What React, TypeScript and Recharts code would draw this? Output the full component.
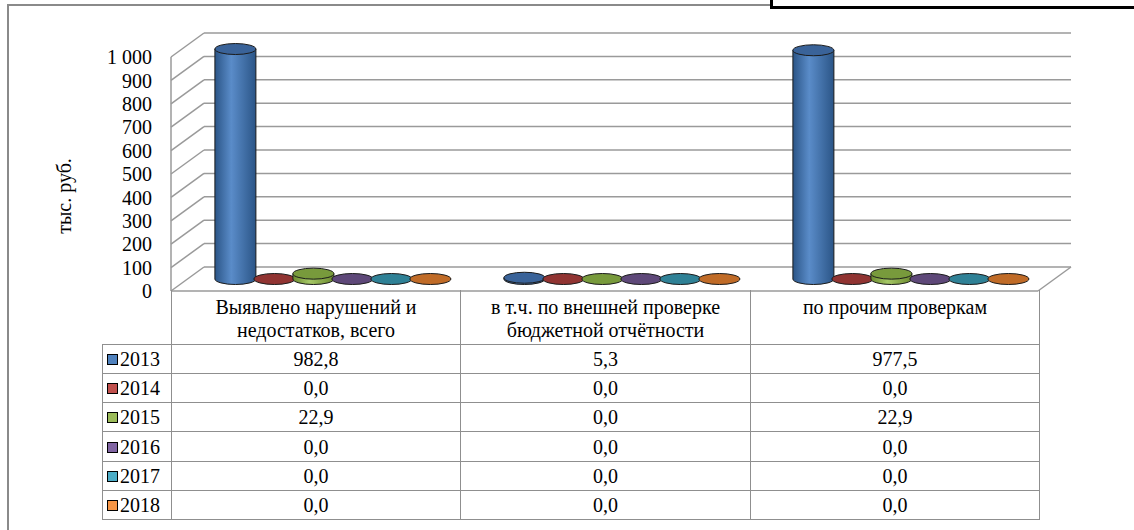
import React from "react";
import { BarChart, Bar, XAxis, YAxis, CartesianGrid } from "recharts";

const categories = [
  "Выявлено нарушений и недостатков, всего",
  "в т.ч. по внешней проверке бюджетной отчётности",
  "по прочим проверкам",
];
const categoryLines = [
  ["Выявлено нарушений и", "недостатков, всего"],
  ["в т.ч. по внешней проверке", "бюджетной отчётности"],
  ["по прочим проверкам"],
];
const years = ["2013", "2014", "2015", "2016", "2017", "2018"];
const values2013 = [982.8, 5.3, 977.5];
const values2014 = [0, 0, 0];
const values2015 = [22.9, 0, 22.9];
const values2016 = [0, 0, 0];
const values2017 = [0, 0, 0];
const values2018 = [0, 0, 0];
const yTicks = [0, 100, 200, 300, 400, 500, 600, 700, 800, 900, 1000];

const seriesValues = [values2013, values2014, values2015, values2016, values2017, values2018];

const data = categories.map((name, i) => {
  const row: Record<string, any> = { name };
  years.forEach((yr, s) => {
    row["y" + yr] = seriesValues[s][i];
  });
  return row;
});

// colours: legend swatch, body dark edge, body light, top face
const palette = [
  { swatch: "#4f81bd", dark: "#2b5587", light: "#5a8cc9", top: "#3a6399" },
  { swatch: "#c0504d", dark: "#7f2a28", light: "#c0504d", top: "#913432" },
  { swatch: "#9bbb59", dark: "#6b8a2e", light: "#a6c867", top: "#789a3c" },
  { swatch: "#8064a2", dark: "#4d3a66", light: "#8064a2", top: "#5e4879" },
  { swatch: "#4bacc6", dark: "#22697c", light: "#4bacc6", top: "#2f8196" },
  { swatch: "#f79646", dark: "#a95a1c", light: "#f79646", top: "#c06b27" },
];

const DX = 16;
const DY = -12;
const DEPTH_X = 33;
const DEPTH_Y = -24;
const GRID = "#9a9a9a";
const FONT = "'Liberation Serif', 'Times New Roman', serif";

const fmt = (v: number) => v.toFixed(1).replace(".", ",");

const Cylinder = (props: any) => {
  const { x, y, width, height, s } = props;
  if (x == null || y == null) return null;
  const c = palette[s];
  const cx = x + width / 2 + DX;
  const rx = width / 2 + 1;
  const ry = 5.5;
  const top = y + DY;
  const bottom = y + height + DY;
  const gid = "cyl-" + s;
  return (
    <g>
      <defs>
        <linearGradient id={gid} x1="0" y1="0" x2="1" y2="0">
          <stop offset="0%" stopColor={c.dark} />
          <stop offset="40%" stopColor={c.light} />
          <stop offset="100%" stopColor={c.dark} />
        </linearGradient>
      </defs>
      {height > 0.5 && (
        <path
          d={`M ${cx - rx} ${top} L ${cx - rx} ${bottom} A ${rx} ${ry} 0 0 0 ${cx + rx} ${bottom} L ${cx + rx} ${top} Z`}
          fill={`url(#${gid})`}
          stroke="#1b1b1b"
          strokeWidth={1}
        />
      )}
      <ellipse cx={cx} cy={top} rx={rx} ry={ry} fill={c.top} stroke="#1b1b1b" strokeWidth={1} />
    </g>
  );
};

const gridLine = (p: any) => {
  const { x1, x2, y1, index } = p;
  const isFloor = Math.abs(y1 - 291) < 1;
  return (
    <g key={"h-" + index}>
      <line x1={x1 + DEPTH_X} y1={y1 + DEPTH_Y} x2={x2 + DEPTH_X} y2={y1 + DEPTH_Y} stroke={GRID} strokeWidth={1.5} />
      <line x1={x1} y1={y1} x2={x1 + DEPTH_X} y2={y1 + DEPTH_Y} stroke={GRID} strokeWidth={1.5} />
      {isFloor && (
        <line x1={x2} y1={y1} x2={x2 + DEPTH_X} y2={y1 + DEPTH_Y} stroke={GRID} strokeWidth={1.5} />
      )}
    </g>
  );
};

const yLabel = (p: any) => {
  const vb = p.viewBox || { x: 0, y: 57, height: 234 };
  const cx = vb.x + 64;
  const cy = vb.y + vb.height / 2 + 22;
  return (
    <text
      x={cx}
      y={cy}
      transform={`rotate(-90 ${cx} ${cy})`}
      textAnchor="middle"
      dominantBaseline="central"
      fontFamily={FONT}
      fontSize={20}
      fill="#000"
    >
      тыс. руб.
    </text>
  );
};

const cellBorder = "1.5px solid #8f8f8f";

export default function App() {
  return (
    <div style={{ position: "relative", width: 1134, height: 530, overflow: "hidden", background: "#fff" }}>
      <style>{"body{margin:0}"}</style>
      {/* surrounding frame from the document */}
      <div
        style={{
          position: "absolute",
          left: 7,
          top: 4,
          width: 1300,
          height: 700,
          borderLeft: "2px solid #8a8a8a",
          borderTop: "2px solid #8a8a8a",
        }}
      />
      <div
        style={{
          position: "absolute",
          left: 770,
          top: -10,
          width: 500,
          height: 13,
          border: "3px solid #000",
          background: "#fff",
        }}
      />

      <div style={{ position: "absolute", left: 0, top: 0 }}>
        <BarChart
          width={1134}
          height={530}
          data={data}
          margin={{ top: 57, right: 96, left: 0, bottom: 0 }}
          barGap={0}
          barCategoryGap="10%"
        >
          <CartesianGrid vertical={false} horizontal={gridLine} />
          <XAxis
            dataKey="name"
            tick={false}
            tickLine={false}
            height={239}
            axisLine={{ stroke: GRID, strokeWidth: 1.5 }}
          />
          <YAxis
            domain={[0, 1000]}
            ticks={yTicks}
            interval={0}
            width={171}
            tickSize={0}
            tickMargin={19}
            tickLine={false}
            axisLine={{ stroke: GRID, strokeWidth: 1.5 }}
            tickFormatter={(v: number) => (v >= 1000 ? "1\u00a0000" : String(v))}
            tick={{ fontSize: 20, fontFamily: FONT, fill: "#000" }}
            label={yLabel}
          />
          {years.map((yr, s) => (
            <Bar
              key={yr}
              dataKey={"y" + yr}
              name={yr}
              fill={palette[s].swatch}
              isAnimationActive={false}
              shape={(p: any) => <Cylinder {...p} s={s} />}
            />
          ))}
        </BarChart>
      </div>

      {/* data table */}
      <table
        style={{
          position: "absolute",
          left: 102,
          top: 290,
          borderCollapse: "collapse",
          tableLayout: "fixed",
          fontFamily: FONT,
          fontSize: 20,
          color: "#000",
        }}
      >
        <colgroup>
          <col style={{ width: 69 }} />
          <col style={{ width: 289 }} />
          <col style={{ width: 290 }} />
          <col style={{ width: 289 }} />
        </colgroup>
        <tbody>
          <tr style={{ height: 54 }}>
            <td style={{ padding: 0 }} />
            {categoryLines.map((lines, i) => (
              <td
                key={i}
                style={{
                  borderLeft: cellBorder,
                  borderRight: cellBorder,
                  verticalAlign: "top",
                  textAlign: "center",
                  padding: "6px 0 0 0",
                  lineHeight: "23px",
                }}
              >
                {lines.map((l, j) => (
                  <div key={j}>{l}</div>
                ))}
              </td>
            ))}
          </tr>
          {years.map((yr, s) => (
            <tr key={yr} style={{ height: 29.3 }}>
              <td style={{ border: cellBorder, padding: "0 0 0 4px", whiteSpace: "nowrap", lineHeight: "20px" }}>
                <span
                  style={{
                    display: "inline-block",
                    width: 9,
                    height: 9,
                    background: palette[s].swatch,
                    border: "1.5px solid #000",
                    marginRight: 2,
                    verticalAlign: "1px",
                  }}
                />
                {yr}
              </td>
              {seriesValues[s].map((v, i) => (
                <td key={i} style={{ border: cellBorder, textAlign: "center", padding: 0, lineHeight: "20px" }}>
                  {fmt(v)}
                </td>
              ))}
            </tr>
          ))}
        </tbody>
      </table>
    </div>
  );
}
